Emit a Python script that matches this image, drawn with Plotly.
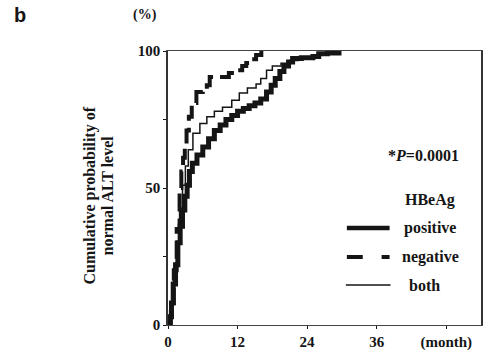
import plotly.graph_objects as go

# Data (months, cumulative %)
pos_x = [0, 0.3, 0.6, 0.9, 1.3, 1.7, 2.1, 2.5, 2.9, 3.3, 3.7, 4.2, 5, 6, 7, 8, 9, 10, 11, 12, 13, 14, 15,
         16, 17, 17.8, 18.5, 19.3, 20, 20.8, 21.5, 23, 25, 26, 27.5, 29.5]
pos_y = [0, 3, 8, 15, 22, 30, 36, 42, 47, 51, 56, 59, 62, 65, 68, 71, 73, 75, 76.5, 78, 79, 80, 81,
         82.5, 85, 87.5, 90, 92.5, 94.5, 96, 97.3, 97.5, 98, 99, 99.3, 100]

neg_x = [0, 0.5, 1, 1.5, 2, 2.3, 2.6, 2.9, 3.2, 3.6, 4.1, 4.9, 6.0, 6.7, 7.2, 9, 10.5, 11.8, 12.8,
         13.5, 14.5, 15.2, 16.1]
neg_y = [0, 8, 20, 35, 50, 56, 61, 66, 71, 76, 81, 85, 86, 87.5, 90.5, 90.5, 92, 93, 94.5,
         95.6, 97, 98.5, 100]

both_x = [0, 0.5, 1, 1.5, 2, 2.5, 3.0, 3.5, 4.3, 5.5, 6.7, 8, 9.4, 11, 12.3, 13.7, 15.2, 16, 17, 18,
          19.5, 21, 22.5, 25, 26, 29.5]
both_y = [0, 8, 18, 30, 42, 51, 58, 64, 70, 73.5, 76, 78, 79.5, 82, 84.7, 86.5, 88, 90, 93, 94.5,
          95.5, 96.5, 97.5, 98, 99, 100]

x_ticks = [0, 12, 24, 36, 48]
x_labels = ["0", "12", "24", "36", "(month)"]
y_ticks = [0, 25, 50, 75, 100]
y_labels = ["0", "", "50", "", "100"]

SERIF = "Liberation Serif"
INK = "#151515"
W, H = 485, 355
L, R, T, B = 168, 2, 51, 30

fig = go.Figure()
fig.add_trace(go.Scatter(x=pos_x, y=pos_y, mode="lines", line=dict(color=INK, width=5, shape="hv"),
                         name="positive"))
fig.add_trace(go.Scatter(x=neg_x, y=neg_y, mode="lines",
                         line=dict(color=INK, width=4, shape="hv", dash="18px,7px"), name="negative"))
fig.add_trace(go.Scatter(x=both_x, y=both_y, mode="lines", line=dict(color=INK, width=1.5, shape="hv"),
                         name="both"))

fig.update_layout(
    width=W, height=H,
    margin=dict(l=L, r=R, t=T, b=B),
    paper_bgcolor="white", plot_bgcolor="white",
    showlegend=False,
    font=dict(family=SERIF, color=INK, size=15),
    xaxis=dict(range=[0, 54], tickvals=x_ticks, ticktext=["<b>%s</b>" % s for s in x_labels],
               ticks="outside", ticklen=3, tickcolor=INK, showgrid=False, zeroline=False,
               showline=True, linecolor="#444", linewidth=1, mirror=True,
               tickfont=dict(family=SERIF, size=15, color=INK)),
    yaxis=dict(range=[0, 100], tickvals=y_ticks, ticktext=["<b>%s</b>" % s if s else "" for s in y_labels],
               ticks="outside", ticklen=3, tickcolor=INK, showgrid=False, zeroline=False,
               showline=True, linecolor="#333", linewidth=1.5, mirror=True,
               tickfont=dict(family=SERIF, size=15, color=INK)),
)


def px(xp):
    return (xp - L) / (W - L - R)


def py(yp):
    return 1 - (yp - T) / (H - T - B)


def note(text, x, y, size=16, family=SERIF, angle=0, xanchor="center"):
    return dict(text=text, x=px(x), y=py(y), xref="paper", yref="paper", showarrow=False,
                textangle=angle, xanchor=xanchor, yanchor="middle",
                font=dict(family=family, size=size, color=INK))


ann = [
    note("<b>b</b>", 19, 15, size=20, family="Liberation Sans"),
    note("<b>(%)</b>", 145, 15, size=14),
    note("<b>Cumulative probability of</b>", 90, 195, size=16, angle=-90),
    note("<b>normal ALT level</b>", 107, 195, size=16, angle=-90),
    note("<b>*<i>P</i>=0.0001</b>", 425, 155, size=16),
    note("<b>HBeAg</b>", 432, 200, size=16),
    note("<b>positive</b>", 403, 228, size=16, xanchor="left"),
    note("<b>negative</b>", 401, 257, size=16, xanchor="left"),
    note("<b>both</b>", 409, 285, size=16, xanchor="left"),
]
fig.update_layout(annotations=ann)

shapes = [
    dict(type="line", xref="paper", yref="paper", x0=px(348), x1=px(391), y0=py(228), y1=py(228),
         line=dict(color=INK, width=4.5)),
    dict(type="line", xref="paper", yref="paper", x0=px(348), x1=px(364), y0=py(257), y1=py(257),
         line=dict(color=INK, width=4)),
    dict(type="line", xref="paper", yref="paper", x0=px(383), x1=px(391), y0=py(257), y1=py(257),
         line=dict(color=INK, width=4)),
    dict(type="line", xref="paper", yref="paper", x0=px(347), x1=px(392), y0=py(285), y1=py(285),
         line=dict(color=INK, width=1.3)),
]
fig.update_layout(shapes=shapes)

fig.write_html("out.html", config={"displayModeBar": False},
               post_script="document.body.style.margin='0';document.body.style.overflow='hidden';")
